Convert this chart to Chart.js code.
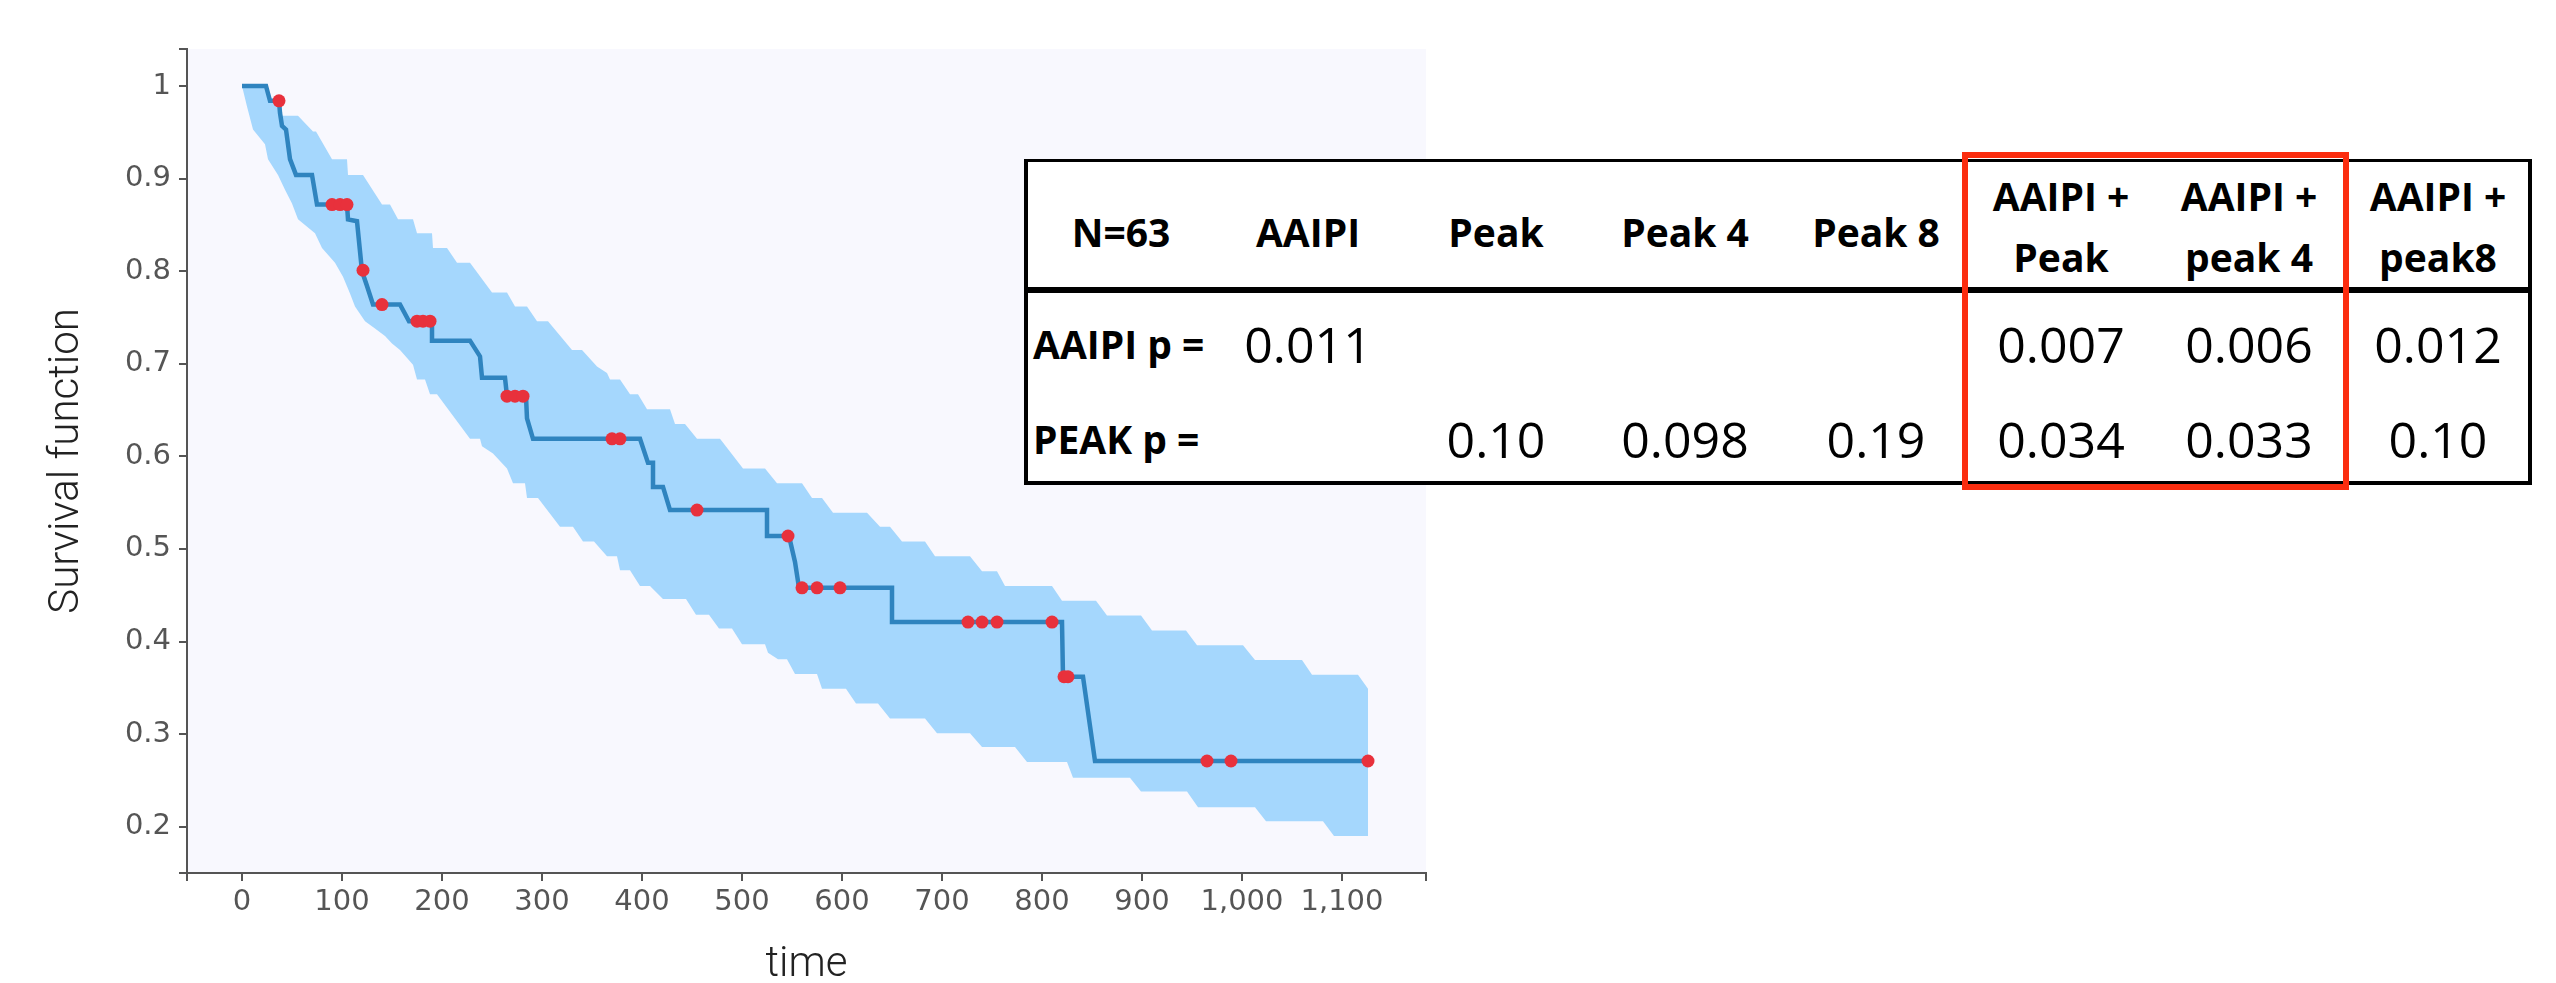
<!DOCTYPE html>
<html lang="en">
<head>
  <meta charset="UTF-8">
  <title>Survival function</title>
  <script src="https://cdn.jsdelivr.net/npm/chart.js@4.4.1/dist/chart.umd.min.js"></script>
  <style>
    html, body { margin: 0; padding: 0; background: #ffffff; }
    body { width: 2556px; height: 983px; position: relative; overflow: hidden; }
    #kmChart { position: absolute; left: 0; top: 0; }

    #pTable {
      position: absolute; left: 1024px; top: 159px;
      width: 1500px; height: 319px;
      border-style: solid; border-color: #000;
      border-width: 3px 4px 4px 4px;
      background: #fff;
      font-family: "Open Sans", "Noto Sans", sans-serif;
      color: #000;
    }
    #pTable .sep { position: absolute; left: 0; right: 0; top: 125px; height: 6px; background: #000; }
    #pTable .cell { position: absolute; width: 188px; height: 60px; line-height: 60px; text-align: center; white-space: nowrap; }
    #pTable .head { font-weight: 700; font-size: 39px; }
    #pTable .num { font-weight: 400; font-size: 50px; }
    #redBox {
      position: absolute; left: 1962px; top: 152px;
      width: 375px; height: 326px;
      border: 6px solid #fb2d0f;
    }
  </style>
</head>
<body>

  <canvas id="kmChart" width="2556" height="983"></canvas>
  <div id="pTable"><div class="sep"></div></div>
  <div id="redBox"></div>

  <script>
    // Kaplan-Meier curve (time, survival)
    const kmTime = [0, 24, 28, 37, 38, 40, 44, 48, 54, 70, 75, 105, 106, 115, 120, 125, 131, 158, 167, 190,
                    190, 228, 238, 240, 263, 265, 284, 285, 291, 398, 406, 411, 411, 421, 428, 525, 525, 547, 553, 557,
                    650, 650, 820, 821, 841, 853, 1126];
    const kmSurv = [1, 1, 0.984, 0.984, 0.971, 0.957, 0.953, 0.921, 0.904, 0.904, 0.872, 0.872, 0.856, 0.854, 0.800, 0.784, 0.764, 0.764, 0.746, 0.746,
                    0.725, 0.725, 0.708, 0.685, 0.685, 0.665, 0.665, 0.641, 0.619, 0.619, 0.593, 0.593, 0.567, 0.567, 0.542, 0.542, 0.514, 0.514, 0.486, 0.458,
                    0.458, 0.421, 0.421, 0.362, 0.362, 0.271, 0.271];

    // censored observations
    const censorTime = [37, 90, 98, 105, 121, 140, 175, 181, 188, 265, 273, 281, 370, 378, 455, 546, 560, 575, 598,
                        726, 740, 755, 810, 822, 826, 965, 989, 1126];
    const censorSurv = [0.984, 0.872, 0.872, 0.872, 0.801, 0.764, 0.746, 0.746, 0.746, 0.665, 0.665, 0.665, 0.619, 0.619, 0.542, 0.514, 0.458, 0.458, 0.458,
                        0.421, 0.421, 0.421, 0.421, 0.362, 0.362, 0.271, 0.271, 0.271];

    // confidence band, upper edge
    const ciUpperTime = [0, 24, 28, 37, 38, 56, 71, 74, 90, 105, 106, 121, 140, 148, 156, 171, 175, 190, 191, 205,
                         215, 228, 250, 265, 273, 285, 295, 306, 330, 340, 355, 365, 368, 378, 388, 396, 405, 428, 433, 443,
                         455, 478, 501, 523, 535, 560, 570, 580, 591, 625, 638, 648, 660, 683, 693, 728, 740, 755, 763, 810,
                         820, 854, 865, 899, 910, 944, 955, 1001, 1013, 1060, 1070, 1116, 1126];
    const ciUpperSurv = [1, 1, 0.984, 0.984, 0.968, 0.968, 0.951, 0.951, 0.921, 0.921, 0.904, 0.904, 0.872, 0.872, 0.856, 0.856, 0.841, 0.841, 0.825, 0.825,
                         0.809, 0.809, 0.777, 0.777, 0.762, 0.762, 0.746, 0.746, 0.715, 0.715, 0.697, 0.690, 0.683, 0.683, 0.667, 0.667, 0.651, 0.651, 0.635, 0.635,
                         0.619, 0.619, 0.587, 0.587, 0.571, 0.571, 0.555, 0.555, 0.539, 0.539, 0.524, 0.524, 0.508, 0.508, 0.492, 0.492, 0.476, 0.476, 0.460, 0.460,
                         0.444, 0.444, 0.428, 0.428, 0.412, 0.412, 0.396, 0.396, 0.380, 0.380, 0.364, 0.364, 0.349];

    // confidence band, lower edge
    const ciLowerTime = [0, 5, 11, 23, 26, 36, 43, 50, 56, 73, 80, 93, 101, 108, 113, 123, 133, 143, 150, 158,
                         171, 175, 183, 188, 195, 228, 238, 240, 251, 265, 271, 283, 285, 296, 318, 331, 341, 352, 365, 375,
                         378, 388, 398, 408, 421, 444, 454, 467, 477, 490, 500, 523, 526, 536, 545, 553, 575, 580, 604, 614,
                         636, 648, 683, 695, 728, 740, 773, 785, 825, 831, 888, 899, 945, 956, 1013, 1024, 1081, 1092, 1126];
    const ciLowerSurv = [1, 0.978, 0.953, 0.937, 0.921, 0.904, 0.888, 0.873, 0.856, 0.841, 0.825, 0.809, 0.794, 0.776, 0.762, 0.746, 0.738, 0.730, 0.722, 0.715,
                         0.699, 0.683, 0.683, 0.667, 0.667, 0.619, 0.619, 0.611, 0.603, 0.587, 0.571, 0.571, 0.555, 0.555, 0.524, 0.524, 0.508, 0.508, 0.492, 0.492,
                         0.477, 0.477, 0.460, 0.460, 0.446, 0.446, 0.429, 0.429, 0.414, 0.414, 0.397, 0.397, 0.388, 0.381, 0.381, 0.365, 0.365, 0.349, 0.349, 0.333,
                         0.333, 0.317, 0.317, 0.301, 0.301, 0.286, 0.286, 0.270, 0.270, 0.253, 0.253, 0.238, 0.238, 0.221, 0.221, 0.206, 0.206, 0.190, 0.190];

    // axes
    const xTicks = [0, 100, 200, 300, 400, 500, 600, 700, 800, 900, 1000, 1100];
    const yTicks = [0.2, 0.3, 0.4, 0.5, 0.6, 0.7, 0.8, 0.9, 1];
    const xMin = -55, xMax = 1184;
    const yMin = 0.15, yMax = 1.04;

    // p-value table
    const colHeads = ['N=63', 'AAIPI', 'Peak', 'Peak 4', 'Peak 8', 'AAIPI +\nPeak', 'AAIPI +\npeak 4', 'AAIPI +\npeak8'];
    const rowLabels = ['AAIPI p =', 'PEAK p ='];
    const aaipiP = ['0.011', '', '', '', '0.007', '0.006', '0.012'];
    const peakP  = ['', '0.10', '0.098', '0.19', '0.034', '0.033', '0.10'];

    const toPts = (xs, ys) => xs.map((x, i) => ({ x: x, y: ys[i] }));
    const bandPts = toPts(ciUpperTime, ciUpperSurv).concat(toPts(ciLowerTime, ciLowerSurv).reverse());

    const plotBg = {
      id: 'plotBg',
      beforeDraw(chart) {
        const { ctx, chartArea: a } = chart;
        ctx.save();
        ctx.fillStyle = '#f8f8fe';
        ctx.fillRect(a.left, a.top, a.right - a.left, a.bottom - a.top);
        ctx.restore();
      }
    };

    const tickFont = { family: 'DejaVu Sans', size: 29 };
    const titleFont = { family: 'Roboto', size: 42, weight: '300', lineHeight: 1 };

    new Chart(document.getElementById('kmChart'), {
      type: 'line',
      data: {
        datasets: [
          {
            label: 'ci',
            data: bandPts,
            fill: 'shape',
            backgroundColor: '#a5d7fd',
            borderColor: 'rgba(0,0,0,0)',
            borderWidth: 0,
            pointRadius: 0,
            tension: 0,
            order: 3
          },
          {
            label: 'km',
            data: toPts(kmTime, kmSurv),
            fill: false,
            borderColor: '#2f84bf',
            borderWidth: 4.5,
            borderJoinStyle: 'miter',
            pointRadius: 0,
            tension: 0,
            order: 2
          },
          {
            label: 'censored',
            data: toPts(censorTime, censorSurv),
            showLine: false,
            pointRadius: 6.5,
            pointBackgroundColor: '#e8313c',
            pointBorderWidth: 0,
            pointBorderColor: '#e8313c',
            order: 1
          }
        ]
      },
      options: {
        responsive: false,
        animation: false,
        events: [],
        layout: { padding: { left: 0, top: 49, right: 2556 - 1426, bottom: 0 } },
        plugins: { legend: { display: false }, tooltip: { enabled: false } },
        scales: {
          x: {
            type: 'linear',
            min: xMin,
            max: xMax,
            afterBuildTicks: s => { s.ticks = [xMin, ...xTicks, xMax].map(v => ({ value: v })); },
            afterFit: s => { s.height = 110; },
            ticks: {
              autoSkip: false, maxRotation: 0, minRotation: 0, padding: 4,
              color: '#555', font: tickFont,
              callback: v => xTicks.includes(v) ? v.toLocaleString('en-US') : ''
            },
            grid: { drawOnChartArea: false, drawTicks: true, tickLength: 8, color: '#555', lineWidth: 2 },
            border: { display: true, color: '#555', width: 2 },
            title: { display: true, text: 'time', color: '#222', font: titleFont, padding: { top: 0, bottom: -3 } }
          },
          y: {
            type: 'linear',
            min: yMin,
            max: yMax,
            afterBuildTicks: s => { s.ticks = [yMin, ...yTicks, yMax].map(v => ({ value: v })); },
            afterFit: s => { s.width = 187; },
            ticks: {
              autoSkip: false, padding: 8,
              color: '#555', font: tickFont,
              callback: v => yTicks.includes(v) ? String(v) : ''
            },
            grid: { drawOnChartArea: false, drawTicks: true, tickLength: 8, color: '#555', lineWidth: 2 },
            border: { display: true, color: '#555', width: 2 },
            title: { display: true, text: 'Survival function', color: '#222', font: titleFont, padding: { top: 46, bottom: 0 } }
          }
        }
      },
      plugins: [plotBg]
    });

    // table text
    const tbl = document.getElementById('pTable');
    const colMid = [93, 280, 468, 657, 848, 1033, 1221, 1410];
    const headY1 = 70, headY2 = [34, 95], rowY = [182, 277];

    function addText(txt, cls, cx, cy, leftAligned) {
      const d = document.createElement('div');
      d.className = 'cell ' + cls;
      d.textContent = txt;
      d.style.top = (cy - 30) + 'px';
      if (leftAligned) {
        d.style.left = cx + 'px';
        d.style.width = 'auto';
        d.style.textAlign = 'left';
      } else {
        d.style.left = (cx - 94) + 'px';
      }
      tbl.appendChild(d);
    }

    colHeads.forEach((h, i) => {
      const lines = h.split('\n');
      if (lines.length === 1) addText(lines[0], 'head', colMid[i], headY1);
      else lines.forEach((ln, k) => addText(ln, 'head', colMid[i], headY2[k]));
    });
    rowLabels.forEach((lbl, r) => addText(lbl, 'head', 5, rowY[r], true));
    [aaipiP, peakP].forEach((vals, r) => {
      vals.forEach((v, i) => { if (v) addText(v, 'num', colMid[i + 1], rowY[r]); });
    });
  </script>
</body>
</html>
